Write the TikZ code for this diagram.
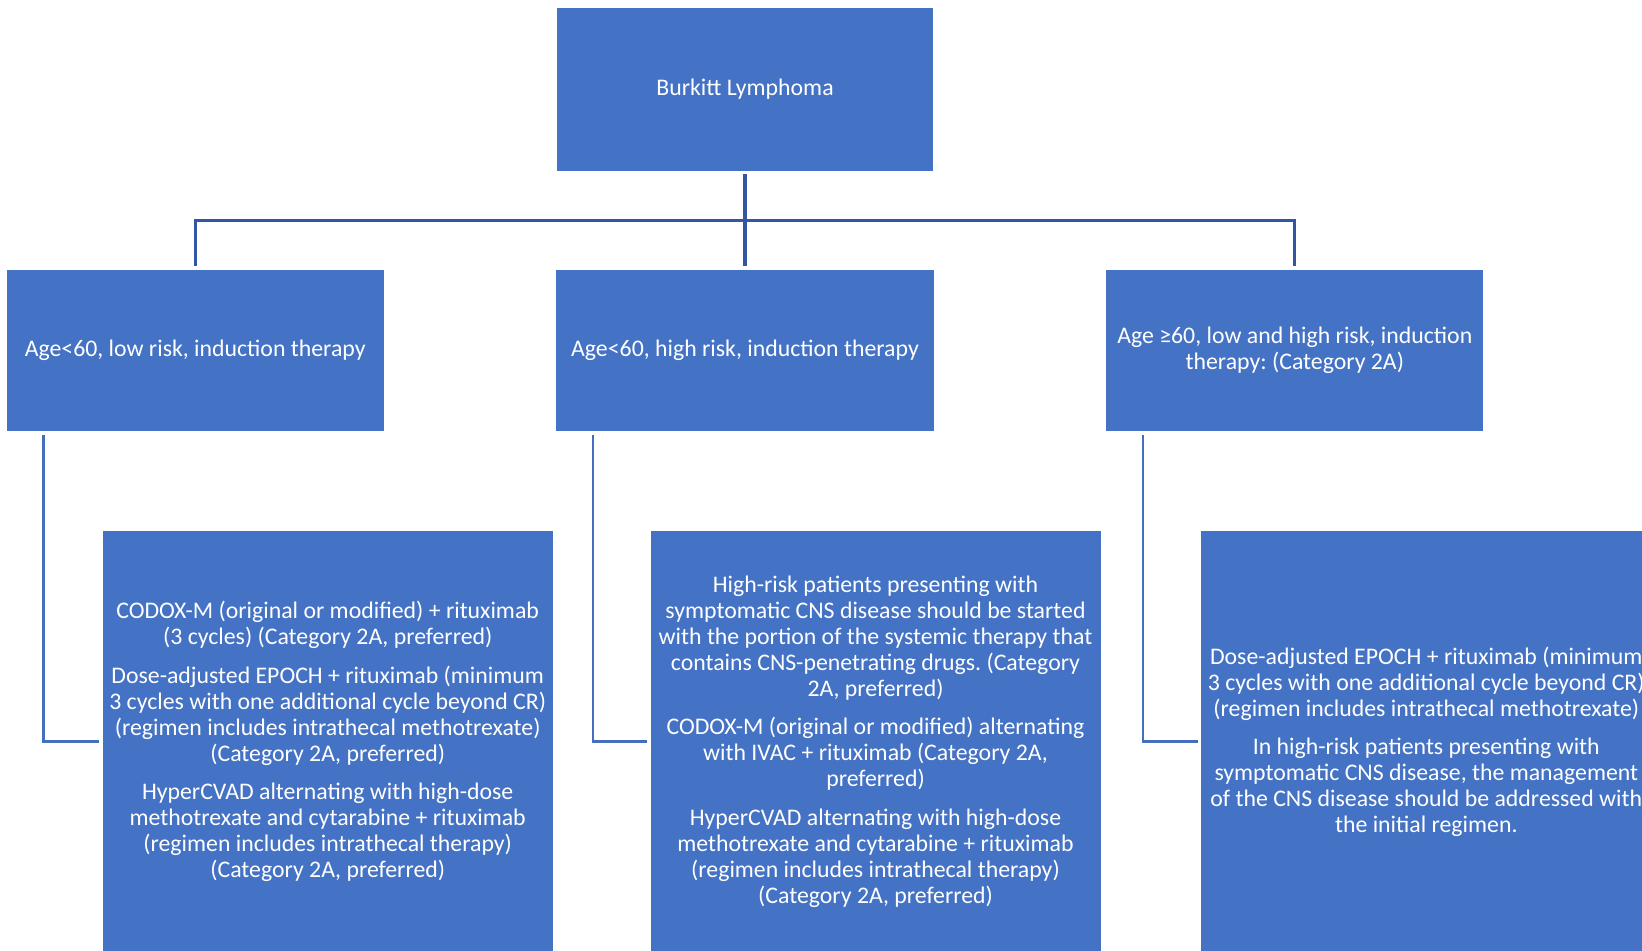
\documentclass[tikz,border=0pt]{standalone}
\usepackage{fontspec}
\setmainfont{Carlito}
\usetikzlibrary{positioning}
\definecolor{boxblue}{RGB}{68,114,196}
\definecolor{treeblue}{RGB}{50,86,162}
\definecolor{elbowblue}{RGB}{68,110,190}
\frenchspacing

\begin{document}
\begin{tikzpicture}[node distance=24.5pt,
  box/.style={fill=boxblue,draw=none,text=white,align=center,inner sep=2pt,
              font=\fontsize{11.9}{13}\selectfont},
  topbox/.style={box,minimum width=188pt,minimum height=81.5pt},
  agebox/.style={box,minimum width=188.5pt,minimum height=80.5pt},
  rxbox/.style={box,minimum width=225pt,minimum height=211pt},
  tree/.style={draw=treeblue,line width=1.6pt},
  elbow/.style={draw=elbowblue,line width=1.3pt}]
  \useasboundingbox (-372.5pt,-430.75pt) rectangle (448.5pt,44.75pt);
  \clip (-372.5pt,-430.75pt) rectangle (448.5pt,44.75pt);
  \node[topbox] (burkitt) {Burkitt Lymphoma};
  \node[agebox,below=49pt of burkitt] (high) {Age<60, high risk, induction therapy};
  \node[agebox,left=86pt of high] (low) {Age<60, low risk, induction therapy};
  \node[agebox,right=86pt of high] (old)
       {Age ≥60, low and high risk, induction\\ therapy: (Category 2A)};
  \node[rxbox,below right=49.5pt and 48pt of low.south west,anchor=north west] (lowrx)
       {CODOX-M (original or modified) + rituximab\\
        (3 cycles) (Category 2A, preferred)\\[6.2pt]
        Dose-adjusted EPOCH + rituximab (minimum\\
        3 cycles with one additional cycle beyond CR)\\
        (regimen includes intrathecal methotrexate)\\
        (Category 2A, preferred)\\[6.2pt]
        HyperCVAD alternating with high-dose\\
        methotrexate and cytarabine + rituximab\\
        (regimen includes intrathecal therapy)\\
        (Category 2A, preferred)};
  \node[rxbox,below right=49.5pt and 47pt of high.south west,anchor=north west] (highrx)
       {High-risk patients presenting with\\
        symptomatic CNS disease should be started\\
        with the portion of the systemic therapy that\\
        contains CNS-penetrating drugs. (Category\\
        2A, preferred)\\[6.2pt]
        CODOX-M (original or modified) alternating\\
        with IVAC + rituximab (Category 2A,\\
        preferred)\\[6.2pt]
        HyperCVAD alternating with high-dose\\
        methotrexate and cytarabine + rituximab\\
        (regimen includes intrathecal therapy)\\
        (Category 2A, preferred)};
  \node[rxbox,below right=49.5pt and 47.5pt of old.south west,anchor=north west] (oldrx)
       {Dose-adjusted EPOCH + rituximab (minimum\\
        3 cycles with one additional cycle beyond CR)\\
        (regimen includes intrathecal methotrexate)\\[6.2pt]
        In high-risk patients presenting with\\
        symptomatic CNS disease, the management\\
        of the CNS disease should be addressed with\\
        the initial regimen.};
  % tree from the top box
  \draw[tree,shorten <=1.5pt] (burkitt.south) -- ++(0,-24.5pt) -| ([yshift=1.5pt]low.north);
  \draw[tree,shorten <=1.5pt,shorten >=1.5pt] (burkitt.south) -- (high.north);
  \draw[tree] (burkitt.south) ++(0,-24.5pt) -| ([yshift=1.5pt]old.north);
  % elbows down to the regimens
  \draw[elbow] ([xshift=18.5pt,yshift=-2pt]low.south west) |- ([xshift=-1.5pt]lowrx.west);
  \draw[elbow] ([xshift=18.5pt,yshift=-2pt]high.south west) |- ([xshift=-1.5pt]highrx.west);
  \draw[elbow] ([xshift=18.5pt,yshift=-2pt]old.south west) |- ([xshift=-1.5pt]oldrx.west);
\end{tikzpicture}
\end{document}
